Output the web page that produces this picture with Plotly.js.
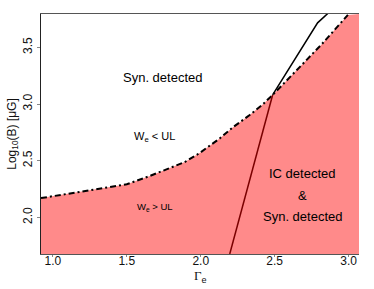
<!DOCTYPE html>
<html><head><meta charset="utf-8">
<script src="https://cdn.plot.ly/plotly-3.0.1.min.js"></script>
<style>html,body{margin:0;padding:0;background:#fff}#c{width:374px;height:289px}</style>
</head><body><div id="c"></div>
<script>
// Boundary W_e = UL (dash-dot curve)
const gammaUL = [0.92, 1.5, 1.655, 1.770, 1.892, 1.993, 2.061, 2.128, 2.216, 2.331, 2.419, 2.486, 2.65, 2.82, 2.995];
const logBUL  = [2.17, 2.292, 2.365, 2.422, 2.488, 2.568, 2.630, 2.696, 2.793, 2.903, 2.996, 3.080, 3.30, 3.53, 3.786];
// IC detection limit (dark red lower part, black upper part)
const gammaIC1 = [2.196, 2.486];
const logBIC1  = [1.677, 3.080];
const gammaIC2 = [2.486, 2.79, 2.86];
const logBIC2  = [3.080, 3.716, 3.80];
const xRange = [0.92, 3.07];
const yRange = [1.677, 3.794];
const xTicks = [1.0, 1.5, 2.0, 2.5, 3.0];
const yTicks = [2.0, 2.5, 3.0, 3.5];

const fillX = gammaUL.concat([xRange[1]]);
const fillY = logBUL.concat([yRange[1]]);

const F = 'Liberation Sans, Arial, sans-serif';
const traces = [
  {x: fillX, y: fillY, mode: 'lines', line: {width: 0}, fill: 'tozeroy', fillcolor: 'rgb(255,138,138)', hoverinfo: 'skip'},
  {x: gammaUL, y: logBUL, mode: 'lines', line: {color: '#000', width: 2, dash: '6px,3px,2px,3px'}},
  {x: gammaIC1, y: logBIC1, mode: 'lines', line: {color: '#7a0000', width: 1.5}},
  {x: gammaIC2, y: logBIC2, mode: 'lines', line: {color: '#000', width: 1.5}}
];
const layout = {
  width: 374, height: 289, showlegend: false,
  margin: {l: 41, r: 15, t: 14, b: 35},
  paper_bgcolor: '#fff', plot_bgcolor: '#fff',
  font: {family: F, size: 12, color: '#111'},
  xaxis: {range: xRange, tickvals: xTicks, ticktext: xTicks.map(v => v.toFixed(1)),
    showgrid: false, zeroline: false, showline: true, linecolor: '#555', linewidth: 1, mirror: true,
    ticks: 'outside', ticklen: 2, tickcolor: '#888', ticklabelstandoff: -6, tickfont: {size: 12, color: '#111'}},
  yaxis: {range: yRange, tickvals: yTicks, ticktext: yTicks.map(v => v.toFixed(1)),
    showgrid: false, zeroline: false, showline: true, linecolor: '#222', linewidth: 1,
    ticks: 'outside', ticklen: 3, tickcolor: '#888', tickangle: -90, tickfont: {size: 12, color: '#111'},
    title: {text: 'Log<sub>10</sub>(B) [μG]', font: {size: 12, color: '#111'}, standoff: 2}},
  annotations: [
    {x: 2.0, xref: 'x', y: 0, yref: 'paper', yanchor: 'middle', yshift: -22, showarrow: false,
     text: '<span style="font-family:Liberation Serif,serif">Γ</span><sub>e</sub>', font: {size: 13, color: '#111'}},
    {x: 1.743, y: 3.23, text: 'Syn. detected', showarrow: false, font: {size: 13, color: '#000'}},
    {x: 1.689, y: 2.71, text: 'W<sub>e</sub> < UL', showarrow: false, font: {size: 11, color: '#000'}},
    {x: 1.689, y: 2.09, text: 'W<sub>e</sub> > UL', showarrow: false, font: {size: 9.5, color: '#000'}},
    {x: 2.69, y: 2.39, text: 'IC detected', showarrow: false, font: {size: 13, color: '#000'}},
    {x: 2.69, y: 2.196, text: '&', showarrow: false, font: {size: 13, color: '#000'}},
    {x: 2.69, y: 2.01, text: 'Syn. detected', showarrow: false, font: {size: 13, color: '#000'}}
  ]
};
Plotly.newPlot('c', traces, layout, {staticPlot: true, displayModeBar: false});
</script></body></html>
